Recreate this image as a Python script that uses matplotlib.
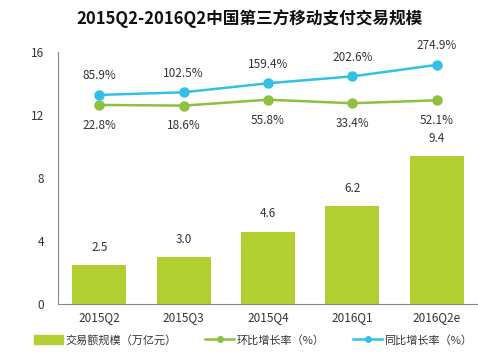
import matplotlib
matplotlib.use("Agg")
import matplotlib.pyplot as plt
from matplotlib.lines import Line2D
from matplotlib.patches import Patch

plt.rcParams["font.family"] = ["Noto Sans CJK SC", "DejaVu Sans"]

quarters = ["2015Q2", "2015Q3", "2015Q4", "2016Q1", "2016Q2e"]
volume = [2.5, 3.0, 4.6, 6.2, 9.4]
qoq_growth = [22.8, 18.6, 55.8, 33.4, 52.1]
yoy_growth = [85.9, 102.5, 159.4, 202.6, 274.9]
legend_labels = ["交易额规模（万亿元）", "环比增长率（%）", "同比增长率（%）"]

bar_color = "#B2CF32"
green = "#8DC13F"
blue = "#33C0E6"
text_color = "#333333"

fig = plt.figure(figsize=(4.78, 3.61), dpi=100)
ax = fig.add_axes([58 / 478, 1 - 304 / 361, 420 / 478, 252 / 361])
x = range(len(quarters))

ax.bar(x, volume, width=0.64, color=bar_color, zorder=2)
for xi, v in zip(x, volume):
    ax.annotate(f"{v:.1f}", (xi, v), xytext=(0, 8), textcoords="offset points",
                ha="center", va="bottom", fontsize=8.5, color=text_color)

ax.set_xlim(-0.49, 4.49)
ax.set_ylim(0, 16)
ax.set_yticks([0, 4, 8, 12, 16])
ax.set_xticks(list(x))
ax.set_xticklabels(quarters)
ax.tick_params(axis="both", length=0, labelsize=8.5, colors=text_color)
ax.tick_params(axis="y", pad=10)
ax.tick_params(axis="x", pad=5)
for side in ("top", "right"):
    ax.spines[side].set_visible(False)
for side in ("left", "bottom"):
    ax.spines[side].set_color("#888888")
    ax.spines[side].set_linewidth(0.8)

# growth rates share the plot area on a hidden secondary scale
ax2 = ax.twinx()
ax2.set_ylim(-1230, 356)
ax2.axis("off")
ax2.plot(x, qoq_growth, color=green, lw=1.8, marker="o", ms=6.5)
ax2.plot(x, yoy_growth, color=blue, lw=1.8, marker="o", ms=6.5)
for xi, v in zip(x, qoq_growth):
    ax2.annotate(f"{v:.1f}%", (xi, v), xytext=(0, -10), textcoords="offset points",
                 ha="center", va="top", fontsize=8.5, color=text_color)
for xi, v in zip(x, yoy_growth):
    ax2.annotate(f"{v:.1f}%", (xi, v), xytext=(0, 9), textcoords="offset points",
                 ha="center", va="bottom", fontsize=8.5, color=text_color)

fig.suptitle("2015Q2-2016Q2中国第三方移动支付交易规模", x=0.523, y=0.975,
             fontsize=12, fontweight="bold", color="#111111")

handles = [
    Patch(color=bar_color),
    Line2D([], [], color=green, lw=1.8, marker="o", ms=4),
    Line2D([], [], color=blue, lw=1.8, marker="o", ms=4),
]
fig.legend(handles, legend_labels, loc="center left", bbox_to_anchor=(24 / 478, 1 - 340 / 361),
           ncol=3, frameon=False, fontsize=8, handlelength=2.6, handleheight=0.9,
           handletextpad=0.2, columnspacing=2.6, labelcolor=text_color)

fig.savefig("out.png", dpi=100)
